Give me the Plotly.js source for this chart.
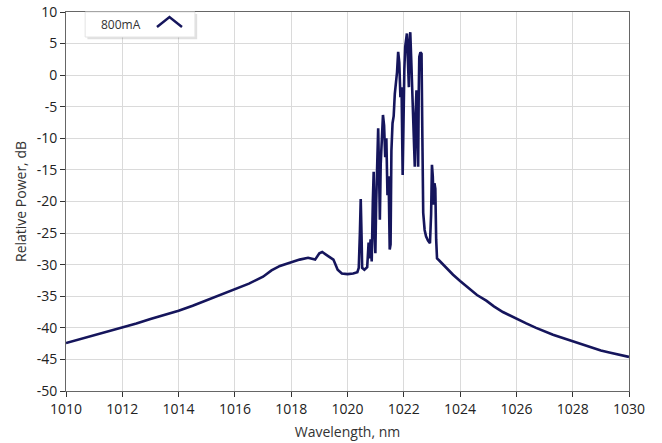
<!DOCTYPE html>
<html>
<head>
<meta charset="utf-8">
<script src="https://cdn.plot.ly/plotly-3.0.1.min.js"></script>
<style>html,body{margin:0;padding:0;background:#fff;}#chart{width:662px;height:443px;}</style>
</head>
<body>
<div id="chart"></div>
<script>
const seriesName = "800mA";
// left shoulder (spontaneous emission)
const wlLeft = [1010.0, 1010.5, 1011.0, 1011.5, 1012.0, 1012.5, 1013.0, 1013.5, 1014.0, 1014.5,
                1015.0, 1015.5, 1016.0, 1016.5, 1017.0, 1017.3, 1017.6, 1018.0, 1018.3, 1018.6,
                1018.85, 1019.0, 1019.1, 1019.3, 1019.5, 1019.65, 1019.8, 1020.0, 1020.2, 1020.35];
const pwLeft = [-42.4, -41.8, -41.2, -40.6, -39.9, -39.3, -38.6, -38.0, -37.3, -36.5,
                -35.6, -34.8, -33.8, -33.0, -31.9, -30.9, -30.2, -29.6, -29.2, -28.9,
                -29.2, -28.2, -28.0, -28.6, -29.2, -30.8, -31.4, -31.5, -31.4, -31.2];
// lasing peaks
const wlPeak = [1020.40, 1020.44, 1020.47, 1020.50, 1020.52, 1020.60, 1020.70, 1020.75, 1020.78, 1020.82,
                1020.86, 1020.90, 1020.93, 1020.96, 1020.99, 1021.02, 1021.06, 1021.09, 1021.12, 1021.15,
                1021.18, 1021.22, 1021.26, 1021.30, 1021.34, 1021.38, 1021.42, 1021.46, 1021.50, 1021.53,
                1021.56, 1021.60, 1021.64, 1021.68, 1021.72, 1021.76, 1021.80, 1021.84, 1021.88, 1021.92,
                1021.96, 1021.99, 1022.02, 1022.05, 1022.08, 1022.11, 1022.14, 1022.18, 1022.20, 1022.23,
                1022.26, 1022.30, 1022.34, 1022.39, 1022.42, 1022.45, 1022.48, 1022.51, 1022.53, 1022.55,
                1022.59, 1022.63, 1022.66, 1022.69, 1022.74, 1022.79, 1022.86, 1022.93, 1022.97, 1023.00,
                1023.03, 1023.06, 1023.09, 1023.12, 1023.15, 1023.18];
const pwPeak = [-30.5, -25.0, -19.6, -25.5, -30.5, -30.8, -30.4, -26.5, -29.0, -26.0,
                -29.5, -20.0, -15.3, -25.0, -28.2, -20.0, -12.0, -8.4, -15.0, -22.9,
                -14.0, -9.0, -6.3, -8.0, -13.0, -10.0, -19.0, -16.0, -27.6, -26.8,
                -12.0, -7.6, -6.5, -3.0, -1.6, 0.5, 3.7, 2.0, -3.5, -1.9,
                -15.8, -4.0, 1.0, 4.5, 5.5, 6.6, 3.0, -1.9, 5.0, 6.8,
                3.0, -2.4, -8.0, -14.5, -6.0, -2.4, -9.0, -14.5, -3.0, 2.9,
                3.6, 3.4, -10.0, -21.8, -24.5, -25.5, -26.2, -26.6, -22.0, -14.2,
                -16.0, -20.5, -17.1, -18.0, -26.0, -29.0];
// right shoulder
const wlRight = [1023.25, 1023.5, 1023.75, 1024.0, 1024.34, 1024.6, 1024.93, 1025.2, 1025.52, 1026.0,
                 1026.35, 1026.7, 1027.0, 1027.3, 1027.65, 1028.0, 1028.35, 1028.73, 1029.0, 1029.3,
                 1029.65, 1030.0];
const pwRight = [-29.3, -30.5, -31.6, -32.6, -33.8, -34.8, -35.7, -36.6, -37.5, -38.6,
                 -39.3, -40.0, -40.6, -41.1, -41.6, -42.1, -42.7, -43.2, -43.6, -43.9,
                 -44.3, -44.6];
const xTicks = [1010, 1012, 1014, 1016, 1018, 1020, 1022, 1024, 1026, 1028, 1030];
const yTicks = [10, 5, 0, -5, -10, -15, -20, -25, -30, -35, -40, -45, -50];
</script>
<script>
const wavelength = wlLeft.concat(wlPeak, wlRight);
const relPower = pwLeft.concat(pwPeak, pwRight);
const trace = {
  x: wavelength, y: relPower, type: 'scatter', mode: 'lines', name: seriesName,
  line: {color: '#15155c', width: 2.6}, showlegend: false
};
const fam = 'Open Sans, Noto Sans, sans-serif';
const tickFont = {family: fam, size: 14, color: '#222'};
const layout = {
  width: 662, height: 443,
  margin: {l: 66, r: 33, t: 12, b: 52},
  paper_bgcolor: '#fff', plot_bgcolor: '#fff',
  xaxis: {
    range: [1010, 1030], tickvals: xTicks, ticktext: xTicks.map(String),
    showgrid: true, gridcolor: '#dadada', gridwidth: 1,
    ticks: 'outside', ticklen: 5, tickcolor: '#333',
    showline: true, linecolor: '#666', linewidth: 1, mirror: true,
    zeroline: false, tickfont: tickFont,
    title: {text: 'Wavelength, nm', font: {family: fam, size: 14, color: '#333'}, standoff: 10}
  },
  yaxis: {
    range: [-50, 10], tickvals: yTicks, ticktext: yTicks.map(String),
    showgrid: true, gridcolor: '#dadada', gridwidth: 1,
    ticks: 'outside', ticklen: 5, tickcolor: '#333',
    showline: true, linecolor: '#666', linewidth: 1, mirror: true,
    zeroline: false, tickfont: tickFont,
    title: {text: 'Relative Power, dB', font: {family: fam, size: 14, color: '#333'}, standoff: 6}
  },
  shapes: [
    {type: 'rect', xref: 'paper', yref: 'paper', x0: 0.038, x1: 0.233, y0: 0.928, y1: 0.995,
     line: {width: 0}, fillcolor: 'rgba(0,0,0,0.12)'},
    {type: 'rect', xref: 'paper', yref: 'paper', x0: 0.034, x1: 0.229, y0: 0.934, y1: 1.0,
     line: {width: 1, color: '#e4e4e4'}, fillcolor: '#fff'},
    {type: 'path', xref: 'paper', yref: 'paper',
     path: 'M 0.1616 0.9604 L 0.1838 0.9868 L 0.2060 0.9604',
     line: {color: '#15155c', width: 2.5}}
  ],
  annotations: [
    {xref: 'paper', yref: 'paper', x: 0.0977, y: 0.968, text: seriesName, showarrow: false,
     xanchor: 'center', yanchor: 'middle',
     font: {family: fam, size: 12, color: '#333'}}
  ]
};
Plotly.newPlot('chart', [trace], layout, {displayModeBar: false, staticPlot: true});
</script>
</body>
</html>
